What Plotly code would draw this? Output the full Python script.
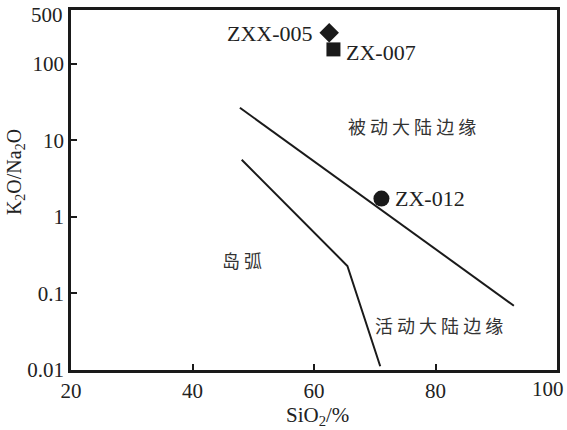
import plotly.graph_objects as go
import math

# Boundary lines
upper_x = [47.8, 92.9]
upper_y = [26.5, 0.069]
lower_x = [48.1, 65.5, 70.9]
lower_y = [5.55, 0.228, 0.0112]

# Samples
sample_names = ["ZXX-005", "ZX-007", "ZX-012"]
sample_x = [62.5, 63.2, 71.1]
sample_y = [252, 153, 1.73]
sample_symbols = ["diamond", "square", "circle"]
sample_sizes = [15, 14, 16]

# Field labels
field_names = ["被 动 大 陆 边 缘", "岛 弧", "活 动 大 陆 边 缘"]
field_x = [76.2, 48.1, 80.5]
field_y = [15.5, 0.273, 0.039]

x_ticks = [20, 40, 60, 80]
y_ticks = [0.01, 0.1, 1, 10, 100]
y_ticktext = ["0.01", "0.1", "1", "10", "100"]

serif = "Liberation Serif"
cjk = "Noto Sans CJK SC"
ink = "#1a1a1a"
txt = "#222"

fig = go.Figure()
fig.add_trace(go.Scatter(x=upper_x, y=upper_y, mode="lines",
                         line=dict(color=ink, width=2), showlegend=False))
fig.add_trace(go.Scatter(x=lower_x, y=lower_y, mode="lines",
                         line=dict(color=ink, width=2), showlegend=False))
for n, x, y, s, sz in zip(sample_names, sample_x, sample_y, sample_symbols, sample_sizes):
    fig.add_trace(go.Scatter(x=[x], y=[y], mode="markers",
                             marker=dict(symbol=s, size=sz, color=ink, line=dict(width=0)),
                             showlegend=False))

# sample labels
fig.add_annotation(x=sample_x[0], y=2.39, text=sample_names[0], showarrow=False,
                   xanchor="right", xshift=-14, font=dict(family=serif, size=22, color=txt))
fig.add_annotation(x=sample_x[1], y=2.14, text=sample_names[1], showarrow=False,
                   xanchor="left", xshift=11, font=dict(family=serif, size=22, color=txt))
fig.add_annotation(x=sample_x[2], y=0.238, text=sample_names[2], showarrow=False,
                   xanchor="left", xshift=12, font=dict(family=serif, size=22, color=txt))

for n, x, y in zip(field_names, field_x, field_y):
    fig.add_annotation(x=x, y=math.log10(y), text=n, showarrow=False,
                       font=dict(family=cjk, size=18, color="#333"))

# edge tick labels (100 on x, 500 on y)
fig.add_annotation(xref="paper", yref="paper", x=1, y=0, yshift=-19, xshift=9, text="100",
                   showarrow=False, xanchor="right", yanchor="middle",
                   font=dict(family=serif, size=21, color=txt))
fig.add_annotation(xref="paper", yref="paper", x=0, y=1, yshift=-5, xshift=-6, text="500",
                   showarrow=False, xanchor="right", yanchor="middle",
                   font=dict(family=serif, size=21, color=txt))

# axis titles
fig.add_annotation(xref="paper", yref="paper", x=0.508, y=-0.128, text="SiO<sub>2</sub>/%",
                   showarrow=False, yanchor="middle",
                   font=dict(family=serif, size=21, color=txt))
fig.add_annotation(xref="paper", yref="paper", x=-0.113, y=0.55, text="K<sub>2</sub>O/Na<sub>2</sub>O",
                   showarrow=False, textangle=-90, xanchor="center", yanchor="middle",
                   font=dict(family=serif, size=20, color=txt))

fig.update_xaxes(range=[20, 100], tickvals=x_ticks, ticks="inside", ticklen=6, tickwidth=2,
                 tickcolor=ink, showline=True, linewidth=2.5, linecolor=ink,
                 mirror=True, showgrid=False, zeroline=False, automargin=False,
                 tickfont=dict(family=serif, size=21, color=txt))
fig.update_yaxes(type="log", range=[-2, math.log10(500)], tickvals=y_ticks, ticktext=y_ticktext,
                 ticks="inside", ticklen=6, tickwidth=2, tickcolor=ink,
                 showline=True, linewidth=2.5, linecolor=ink, mirror=True,
                 showgrid=False, zeroline=False, automargin=False,
                 tickfont=dict(family=serif, size=21, color=txt))

fig.update_layout(width=567, height=430, margin=dict(l=71, r=10, t=10, b=60),
                  plot_bgcolor="white", paper_bgcolor="white")
fig.write_html("out.html")
